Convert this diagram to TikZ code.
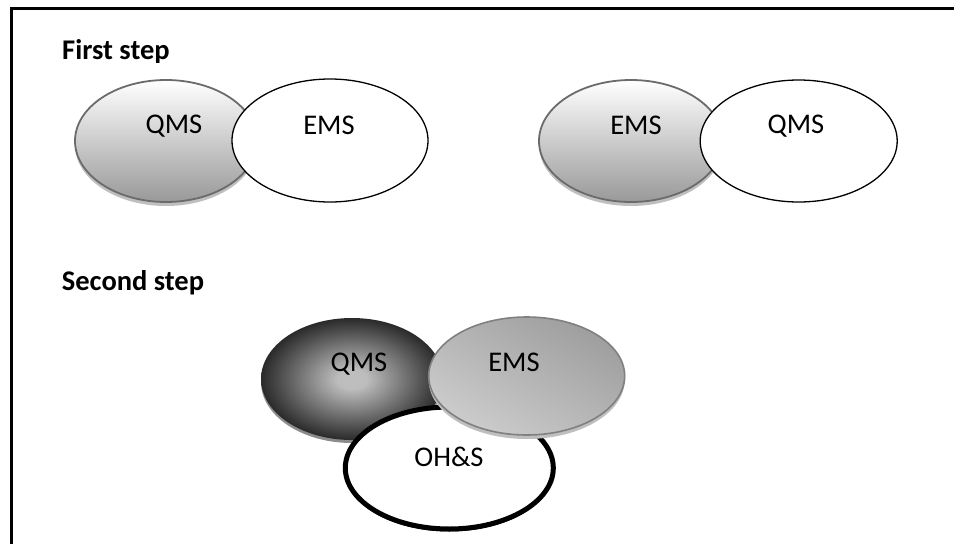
\documentclass[tikz,border=0pt]{standalone}
\usepackage{fontspec}
\setmainfont{Carlito}
\usetikzlibrary{shapes.geometric,shadows}

% dark centre-lit fill of the second-step QMS circle
\pgfdeclareradialshading{qmsdark}{\pgfpoint{0bp}{0bp}}{%
  color(0bp)=(black!25); color(4bp)=(black!26); color(31bp)=(black); color(50bp)=(black)}

\tikzset{
  set/.style={ellipse, inner sep=0pt},
  softshadow/.style={drop shadow={shadow xshift=0pt, shadow yshift=-4pt,
      fill=black!25, opacity=1}},
  graysetA/.style={set, softshadow, draw=black!58, line width=1.8pt,
      top color=white, bottom color=black!40},
  whiteset/.style={set, draw=black, line width=1.3pt, fill=white},
  darkset/.style={set, drop shadow={shadow xshift=0pt, shadow yshift=-3pt,
      fill=black!45, opacity=1}, shading=qmsdark},
  graysetB/.style={set, softshadow, draw=black!50, line width=1.6pt,
      left color=black!38, right color=black!20, shading angle=-30},
  boldset/.style={set, draw=black, line width=5pt, fill=white,
      drop shadow={shadow xshift=0pt, shadow yshift=-2.5pt, fill=black, opacity=1}},
  setlabel/.style={anchor=base, inner sep=0pt, font=\fontsize{28.5}{33}\selectfont},
  heading/.style={anchor=base west, inner sep=0pt, font=\fontsize{28.5}{33}\selectfont\bfseries},
}

\begin{document}
\begin{tikzpicture}[x=1pt, y=-1pt]
\useasboundingbox (0,0) rectangle (954,544);

% frame (top and left edges)
\draw[line width=2.6pt] (11.3,544) -- (11.3,8.3) -- (954,8.3);

% first step heading
\begin{scope}
  \clip (0,0) rectangle (954,62.5);
  \node[heading] (h1) at (62,59.3) {First step};
\end{scope}

% first step, left pair
\node[graysetA, minimum width=182pt, minimum height=122pt] (q1) at (166,141) {};
\node[whiteset, minimum width=196pt, minimum height=123pt] (e1) at (330,140.5) {};
\node[setlabel] (q1t) at (174,133.5) {QMS};
\node[setlabel] (e1t) at (329,134) {EMS};

% first step, right pair
\node[graysetA, minimum width=184pt, minimum height=122pt] (e2) at (631,141) {};
\node[whiteset, minimum width=197pt, minimum height=122pt] (q2) at (798.7,141) {};
\node[setlabel] (e2t) at (636,134) {EMS};
\node[setlabel] (q2t) at (796,133.5) {QMS};

% second step
\node[heading] (h2) at (61.7,290) {Second step};

\node[darkset, minimum width=182pt, minimum height=122pt] (q3) at (352,379) {};
\node[boldset, minimum width=208pt, minimum height=122pt] (o3) at (449.3,468) {};
\node[graysetB, minimum width=196pt, minimum height=118pt] (e3) at (526.7,376) {};
\node[setlabel] (q3t) at (359,371.7) {QMS};
\node[setlabel] (e3t) at (514,371.7) {EMS};
\node[setlabel] (o3t) at (449,466.7) {OH\&S};
\end{tikzpicture}
\end{document}
